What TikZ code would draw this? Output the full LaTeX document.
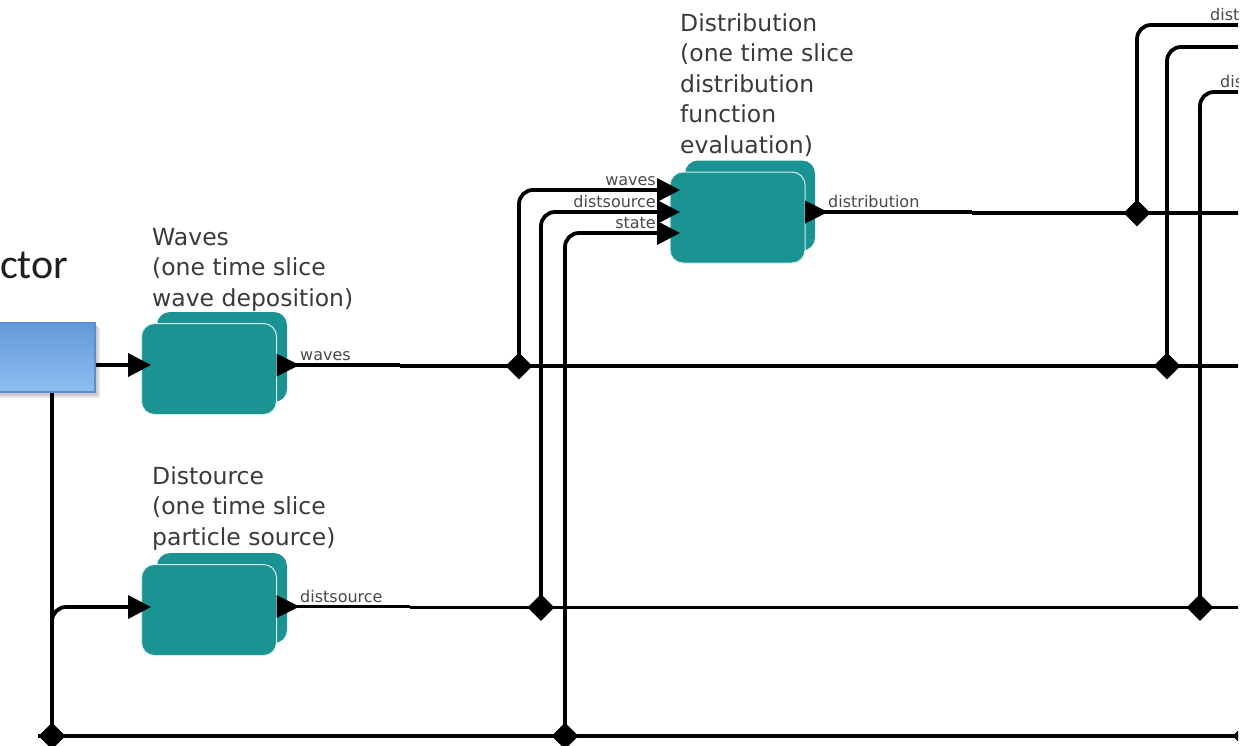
\documentclass[tikz,border=0pt]{standalone}
\usepackage{fontspec}
\setmainfont{DejaVu Sans}
\newfontfamily\slidefont{Carlito}
\usetikzlibrary{arrows.meta,calc,shapes.geometric}

\definecolor{actor}{HTML}{1B9392}
\definecolor{actoredge}{HTML}{D2EEED}
\definecolor{labelgray}{HTML}{3A3A3A}
\definecolor{portgray}{HTML}{484848}
\definecolor{bluetop}{HTML}{6399DA}
\definecolor{bluebottom}{HTML}{8FBDF0}
\definecolor{blueedge}{HTML}{5A8DCB}

\tikzset{
  wire/.style={line width=3.8pt},
  link/.style={wire, rounded corners=14pt},
  feed/.style={wire, -{Triangle[length=23pt,width=23pt]}},
  vertex/.style={diamond, fill=black, minimum size=27pt, inner sep=0pt},
  actorfront/.style={rectangle, rounded corners=13pt, fill=actor, draw=actoredge,
    line width=1pt, minimum width=135pt, minimum height=91pt},
  actorback/.style={rectangle, rounded corners=13pt, fill=actor,
    minimum width=130pt, minimum height=90pt},
  sourcebox/.style={rectangle, minimum width=105pt, minimum height=69pt,
    top color=bluetop, bottom color=bluebottom, draw=blueedge, line width=1.2pt},
  caption/.style={font=\fontsize{23.5}{30.5}\selectfont, text=labelgray,
    align=left, anchor=base west, inner sep=0pt},
  portlabel/.style={font=\fontsize{16}{18}\selectfont, text=portgray, inner sep=0pt},
  titlefrag/.style={font=\slidefont\fontsize{42}{48}\selectfont, text=black!88,
    anchor=base west, inner sep=0pt},
  outport/.pic={\fill (0,-11.5) -- (23,0) -- (0,11.5) -- cycle;}
}

\begin{document}
\begin{tikzpicture}[x=1pt,y=-1pt]
\useasboundingbox (0,0) rectangle (1255,745);
\begin{scope}
\clip (0,0) rectangle (1238,745);

% fragment of the slide title
\node[titlefrag] (title) at (0,278) {ctor};

% source block with its soft shadow
\fill[black!10] (-10,328) rectangle (100,398);
\fill[black!20] (-10,326) rectangle (98,396);
\node[sourcebox] (src) at (42.5,357.5) {};

% actors: each one is a stack of two rounded boxes
\node[actorback] at (222,357) {};
\node[actorfront] (waves) at (209,369) {};
\node[actorback] at (222,598) {};
\node[actorfront] (distsource) at (209,610) {};
\node[actorback] at (750,205.5) {};
\node[actorfront] (distribution) at (737.5,217.5) {};

% actor captions (anchored on the baseline of their last line)
\node[caption] (capW) at (152,306) {Waves\\(one time slice\\wave deposition)};
\node[caption] (capS) at (152,545) {Distource\\(one time slice\\particle source)};
\node[caption] (capD) at (680,153) {Distribution\\(one time slice\\distribution\\function\\evaluation)};

% ports
\coordinate (wavesIn) at (151,365);
\coordinate (wavesOut) at (276.5,365);
\coordinate (dsIn) at (151,607);
\coordinate (dsOut) at (276.5,606.5);
\coordinate (distInW) at (680,190);
\coordinate (distInD) at (680,212);
\coordinate (distInS) at (680,233);
\coordinate (distOut) at (805,212);

% ends of the output stubs and free ends of the relations
\coordinate (wavesStub) at (400,365);
\coordinate (dsStub) at (410,606.5);
\coordinate (distStub) at (972,212);
\coordinate (wavesEnd) at (1260,366);
\coordinate (dsEnd) at (1260,607.5);
\coordinate (distEnd) at (1260,213);
\coordinate (busStart) at (38,736);
\coordinate (busEnd) at (1260,736);
\coordinate (edgeA) at (1260,25);
\coordinate (edgeB) at (1260,47);
\coordinate (edgeC) at (1260,92);

% relation vertices
\node[vertex] (rw1) at (519,366) {};
\node[vertex] (rw2) at (1167,366) {};
\node[vertex] (rd1) at (541,607.5) {};
\node[vertex] (rd2) at (1200,607.5) {};
\node[vertex] (rx1) at (1137,213) {};
\node[vertex] (rb1) at (52,736) {};
\node[vertex] (rb2) at (565,736) {};
\node[vertex] (rb3) at (1246,736) {};

% output ports
\pic at (wavesOut) {outport};
\pic at (dsOut) {outport};
\pic at (distOut) {outport};

% output stubs
\draw[wire] (wavesOut) -- (wavesStub);
\draw[wire] (dsOut) -- (dsStub);
\draw[wire] (distOut) -- (distStub);

% relations
\draw[wire] (wavesStub |- rw1) -- (wavesEnd);
\draw[wire] (dsStub |- rd1) -- (dsEnd);
\draw[wire] (distStub |- rx1) -- (distEnd);
\draw[wire] (busStart) -- (busEnd);

% connections into the actors
\draw[feed] (src.east |- wavesIn) -- (wavesIn);
\draw[wire] (rb1.center) -- (rb1 |- src.south);
\draw[link,feed] (rb1.center) |- (dsIn);
\draw[link,feed] (rw1.center) |- (distInW);
\draw[link,feed] (rd1.center) |- (distInD);
\draw[link,feed] (rb2.center) |- (distInS);

% connections leaving to the right
\draw[link] (rx1.center) |- (edgeA);
\draw[link] (rw2.center) |- (edgeB);
\draw[link] (rd2.center) |- (edgeC);

% port labels
\node[portlabel, anchor=base west] (lw) at (300,360.5) {waves};
\node[portlabel, anchor=base west] (ls) at (300,602) {distsource};
\node[portlabel, anchor=base west] (ld) at (828,207.5) {distribution};
\node[portlabel, anchor=base east] (iw) at (656,185.5) {waves};
\node[portlabel, anchor=base east] (id) at (656,207.5) {distsource};
\node[portlabel, anchor=base east] (is) at (656,228.5) {state};
\node[portlabel, anchor=base west] (ea) at (1210,20.5) {dist};
\node[portlabel, anchor=base west] (ec) at (1220,87.5) {dis};
\end{scope}
\end{tikzpicture}
\end{document}
